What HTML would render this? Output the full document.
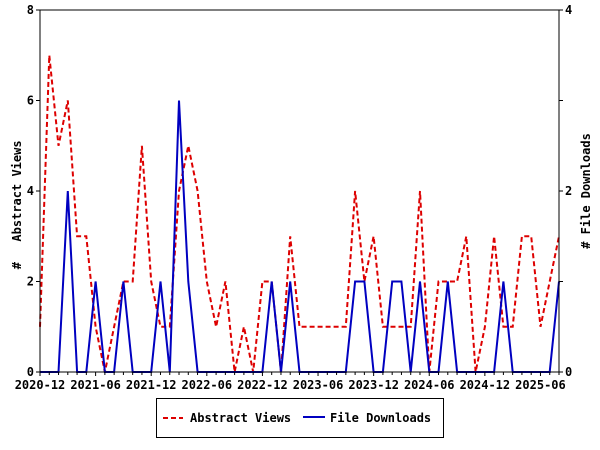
<!DOCTYPE html>
<html><head><style>body{margin:0;background:#fff}svg{display:block}text{font-family:"DejaVu Sans Mono","Liberation Mono",monospace;font-weight:bold;font-size:12px;fill:#000}</style></head>
<body>
<svg id="s" width="600" height="450" xmlns="http://www.w3.org/2000/svg">
<rect x="0" y="0" width="600" height="450" fill="#fff"/>
<g id="plot"></g>
<rect x="40" y="10" width="519" height="362" fill="none" stroke="#000" stroke-width="1"/>
<g id="ticks" stroke="#000"></g>
<g id="lbl"></g>
<text transform="translate(21,191) rotate(-90)" text-anchor="middle" font-size="13">Abstract Views</text>
<text transform="translate(21,262) rotate(-90)" text-anchor="end" font-size="13">#</text>
<text transform="translate(590,191) rotate(-90)" text-anchor="middle" font-size="13"># File Downloads</text>
<rect x="156.5" y="398.5" width="287" height="39" fill="#fff" stroke="#000"/>
<line x1="163" y1="418" x2="183" y2="418" stroke="#d00" stroke-width="2" stroke-dasharray="5,3"/>
<text x="190" y="422">Abstract Views</text>
<line x1="303" y1="417" x2="325" y2="417" stroke="#0000c0" stroke-width="2"/>
<text x="330" y="422">File Downloads</text>
</svg>
<script>
var red=[1,7,5,6,3,3,1,0,1,2,2,5,2,1,1,4,5,4,2,1,2,0,1,0,2,2,0,3,1,1,1,1,1,1,4,2,3,1,1,1,1,4,0,2,2,2,3,0,1,3,1,1,3,3,1,2,3];
var blue=[0,0,0,4,0,0,2,0,0,2,0,0,0,2,0,6,2,0,0,0,0,0,0,0,0,2,0,2,0,0,0,0,0,0,2,2,0,0,2,2,0,2,0,0,2,0,0,0,0,0,2,0,0,0,0,0,2];
function pts(a){return a.map(function(v,i){return (40+i*519/56).toFixed(1)+","+(372-v*45.25).toFixed(1)}).join(" ")}
var ns="http://www.w3.org/2000/svg",g=document.getElementById("plot");
function pl(a,c,d){var p=document.createElementNS(ns,"polyline");p.setAttribute("points",pts(a));p.setAttribute("fill","none");p.setAttribute("stroke",c);p.setAttribute("stroke-width","2");if(d)p.setAttribute("stroke-dasharray",d);g.appendChild(p);}
pl(red,"#d00","5,3");pl(blue,"#0000c0");
var t=document.getElementById("ticks"),l=document.getElementById("lbl"),h="";
for(var k=0;k<=4;k++){var y=372-k*90.5;h+='<line x1="36" y1="'+y+'" x2="40" y2="'+y+'"/><line x1="559" y1="'+y+'" x2="563" y2="'+y+'"/>';}
for(var i=0;i<=56;i++){var x=40+i*519/56;h+='<line x1="'+x+'" y1="372" x2="'+x+'" y2="'+(i%6==0?376:375)+'"/>';}
t.innerHTML=h;
var s="",labs=["2020-12","2021-06","2021-12","2022-06","2022-12","2023-06","2023-12","2024-06","2024-12","2025-06"];
for(var k=0;k<=4;k++){var y=372-k*90.5;s+='<text x="34" y="'+(y+4)+'" text-anchor="end">'+(k*2)+'</text><text x="565" y="'+(y+4)+'">'+(k%2==0?k/2*2:"")+'</text>';}
labs.forEach(function(b,j){var x=40+j*6*519/56;s+='<text x="'+x+'" y="389" text-anchor="middle">'+b+'</text>';});
l.innerHTML=s;
</script>
</body></html>
